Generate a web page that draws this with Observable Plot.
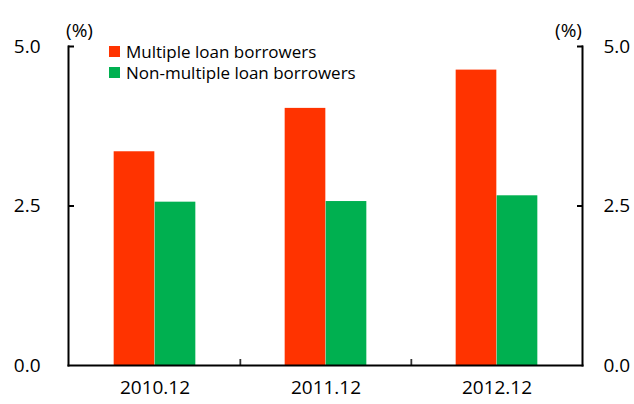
<!DOCTYPE html>
<html>
<head>
<meta charset="utf-8">
<script src="https://cdn.jsdelivr.net/npm/d3@7"></script>
<script src="https://cdn.jsdelivr.net/npm/@observablehq/plot@0.6"></script>
<style>
  html, body { margin: 0; padding: 0; background: #fff; }
  #wrap { position: relative; width: 634px; height: 404px; font-family: "Open Sans", "Liberation Sans", sans-serif; }
  #legend { position: absolute; left: 109px; top: 41px; font-size: 17px; color: #000; line-height: 21px; }
  #legend .row { display: flex; align-items: center; white-space: nowrap; }
  #legend .sw { width: 11px; height: 11px; margin-right: 6px; display: inline-block; }
  #chart svg g.pct, #chart svg g.pct text { font-size: 19px !important; }
</style>
</head>
<body>
<div id="wrap">
  <div id="chart"></div>
  <div id="legend"></div>
</div>
<script>
const categories = ["2010.12", "2011.12", "2012.12"];
const seriesNames = ["Multiple loan borrowers", "Non-multiple loan borrowers"];
const multipleValues = [3.35, 4.03, 4.63];
const nonMultipleValues = [2.56, 2.57, 2.66];
const seriesColors = ["#FF3300", "#00B050"];
const yTicks = [0, 2.5, 5];

const W = 634, H = 404;
const mL = 68, mR = 52, mT = 46, mB = 39;
const innerW = W - mL - mR;
const step = innerW / categories.length;
const barW = 41;
const tickLen = 6;

const multiple = categories.map((c, i) => ({category: c, value: multipleValues[i]}));
const nonMultiple = categories.map((c, i) => ({category: c, value: nonMultipleValues[i]}));

const fontFamily = '"Open Sans", "Liberation Sans", sans-serif';
const blank = () => "";

const chart = Plot.plot({
  width: W,
  height: H,
  marginLeft: mL,
  marginRight: mR,
  marginTop: mT,
  marginBottom: mB,
  style: {fontFamily, fontSize: "19px", color: "#000", background: "#fff", overflow: "visible"},
  x: {type: "band", domain: categories, padding: 0, label: null},
  y: {domain: [0, 5], label: null},
  marks: [
    Plot.barY(multiple, {x: "category", y: "value", fill: seriesColors[0], insetLeft: step / 2 - barW, insetRight: step / 2}),
    Plot.barY(nonMultiple, {x: "category", y: "value", fill: seriesColors[1], insetLeft: step / 2, insetRight: step / 2 - barW}),
    Plot.axisY({anchor: "left", ticks: yTicks, tickFormat: d3.format(".1f"), tickSize: 0, tickPadding: 28, label: null}),
    Plot.axisY({anchor: "right", ticks: yTicks, tickFormat: d3.format(".1f"), tickSize: 0, tickPadding: 21, label: null}),
    Plot.axisY({anchor: "left", ticks: yTicks.slice(1), tickFormat: blank, tickSize: tickLen, dx: tickLen, label: null, stroke: "#000", strokeWidth: 2, strokeOpacity: 1}),
    Plot.axisY({anchor: "right", ticks: yTicks.slice(1), tickFormat: blank, tickSize: tickLen, dx: -tickLen, label: null, stroke: "#000", strokeWidth: 2, strokeOpacity: 1}),
    Plot.axisX({tickSize: 0, tickPadding: 15, label: null}),
    Plot.axisX({ticks: categories.slice(1), tickFormat: blank, tickSize: tickLen, dy: -tickLen, dx: -step / 2, label: null, stroke: "#333", strokeWidth: 1.8, strokeOpacity: 1}),
    Plot.frame({anchor: "left", stroke: "#000", strokeWidth: 2}),
    Plot.frame({anchor: "right", stroke: "#000", strokeWidth: 2}),
    Plot.frame({anchor: "bottom", stroke: "#000", strokeWidth: 2}),
    Plot.text(["(%)"], {frameAnchor: "top-left", dx: 11, dy: -23, text: d => d, fontSize: 19, className: "pct", textAnchor: "middle"}),
    Plot.text(["(%)"], {frameAnchor: "top-right", dx: -14, dy: -23, text: d => d, fontSize: 19, className: "pct", textAnchor: "middle"})
  ]
});
document.getElementById("chart").appendChild(chart);

const legend = document.getElementById("legend");
seriesNames.forEach((name, i) => {
  const row = document.createElement("div");
  row.className = "row";
  const sw = document.createElement("span");
  sw.className = "sw";
  sw.style.background = seriesColors[i];
  const label = document.createElement("span");
  label.textContent = name;
  row.appendChild(sw);
  row.appendChild(label);
  legend.appendChild(row);
});
</script>
</body>
</html>
